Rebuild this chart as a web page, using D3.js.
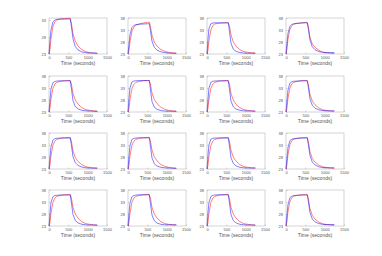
<!DOCTYPE html>
<html>
<head>
<meta charset="utf-8">
<script src="https://cdn.jsdelivr.net/npm/d3@7"></script>
<style>
  body { margin: 0; background: #fff; }
  text { font-family: "Liberation Sans", Arial, sans-serif; fill: #333; }
</style>
</head>
<body>
<script>
// sample times (seconds), shared by every panel
const times = [0, 25, 50, 100, 150, 200, 300, 400, 500, 550, 580, 620, 680, 750, 850, 950, 1050, 1150, 1250];

// blue series, one row per panel (row-major, 4x4)
const blueSeries = [
  [23.0, 27.0, 30.0, 32.4, 33.0, 33.2, 33.3, 33.3, 33.3, 33.3, 31.0, 27.5, 25.2, 24.2, 23.6, 23.4, 23.3, 23.3, 23.2],
  [23.0, 27.0, 31.0, 34.0, 34.9, 35.2, 35.4, 35.5, 35.6, 35.6, 32.8, 28.4, 25.8, 24.6, 23.9, 23.6, 23.4, 23.3, 23.3],
  [23.0, 29.0, 33.5, 35.6, 35.9, 36.0, 36.0, 36.0, 36.0, 36.0, 32.5, 27.5, 25.0, 24.1, 23.6, 23.4, 23.3, 23.3, 23.3],
  [23.0, 27.5, 31.5, 34.5, 35.3, 35.6, 35.8, 35.9, 36.0, 36.0, 33.2, 28.8, 26.0, 24.8, 24.0, 23.7, 23.6, 23.6, 23.6],
  [23.0, 28.0, 32.5, 35.2, 35.7, 35.9, 36.0, 36.0, 36.0, 36.0, 32.6, 27.8, 25.3, 24.3, 23.7, 23.5, 23.4, 23.3, 23.3],
  [23.0, 28.5, 33.0, 35.5, 35.9, 36.0, 36.1, 36.1, 36.1, 36.1, 32.4, 27.4, 25.0, 24.1, 23.6, 23.4, 23.3, 23.3, 23.3],
  [23.0, 28.0, 32.8, 35.4, 35.8, 35.9, 36.0, 36.0, 36.0, 36.0, 32.5, 27.6, 25.2, 24.2, 23.7, 23.5, 23.4, 23.4, 23.4],
  [23.0, 27.8, 32.0, 35.0, 35.6, 35.8, 35.9, 36.0, 36.0, 36.0, 33.0, 28.5, 25.8, 24.6, 23.9, 23.6, 23.5, 23.5, 23.5],
  [23.0, 27.8, 32.0, 35.0, 35.6, 35.8, 35.9, 35.9, 35.9, 35.9, 32.8, 28.2, 25.6, 24.5, 23.8, 23.5, 23.4, 23.4, 23.4],
  [23.0, 28.2, 32.6, 35.3, 35.8, 35.9, 36.0, 36.0, 36.0, 36.0, 32.5, 27.7, 25.2, 24.2, 23.7, 23.5, 23.4, 23.3, 23.3],
  [23.0, 28.5, 33.0, 35.4, 35.8, 35.9, 35.9, 35.9, 35.9, 35.9, 32.6, 27.8, 25.3, 24.3, 23.7, 23.5, 23.4, 23.4, 23.4],
  [23.0, 27.6, 31.8, 34.8, 35.4, 35.6, 35.8, 35.9, 35.9, 35.9, 33.0, 28.6, 25.9, 24.7, 23.9, 23.6, 23.5, 23.5, 23.5],
  [23.0, 28.0, 32.6, 35.2, 35.7, 35.8, 35.9, 35.9, 35.9, 35.9, 32.6, 27.8, 25.3, 24.3, 23.7, 23.5, 23.4, 23.4, 23.4],
  [23.0, 28.0, 32.5, 35.2, 35.7, 35.9, 36.0, 36.0, 36.0, 36.0, 32.5, 27.6, 25.2, 24.2, 23.7, 23.5, 23.5, 23.5, 23.5],
  [23.0, 28.3, 32.8, 35.3, 35.8, 35.9, 36.0, 36.0, 36.0, 36.0, 32.6, 27.8, 25.3, 24.3, 23.7, 23.5, 23.4, 23.4, 23.4],
  [23.0, 27.6, 31.8, 34.8, 35.4, 35.7, 35.8, 35.9, 35.9, 35.9, 33.0, 28.6, 25.9, 24.7, 24.0, 23.7, 23.6, 23.6, 23.6]
];

// red series, one row per panel
const redSeries = [
  [23.0, 24.2, 27.3, 31.0, 32.5, 33.0, 33.3, 33.4, 33.5, 33.5, 32.0, 29.0, 26.8, 25.3, 24.3, 23.7, 23.4, 23.3, 23.2],
  [23.0, 24.3, 28.0, 32.4, 34.2, 35.0, 35.6, 35.9, 36.2, 36.3, 34.6, 30.8, 28.0, 26.3, 24.9, 24.1, 23.7, 23.5, 23.3],
  [23.0, 24.5, 28.5, 33.0, 34.8, 35.5, 35.8, 35.9, 36.0, 36.0, 34.8, 31.0, 28.0, 26.3, 24.8, 24.0, 23.7, 23.5, 23.4],
  [23.0, 25.0, 29.0, 33.2, 34.8, 35.4, 35.8, 36.0, 36.1, 36.1, 34.2, 30.0, 27.2, 25.8, 24.5, 23.8, 23.5, 23.3, 23.2],
  [23.0, 24.4, 28.2, 32.8, 34.6, 35.3, 35.8, 36.0, 36.1, 36.1, 34.6, 30.8, 28.0, 26.3, 24.8, 24.0, 23.7, 23.5, 23.3],
  [23.0, 24.3, 28.0, 32.6, 34.5, 35.3, 35.8, 36.0, 36.1, 36.2, 34.7, 31.0, 28.2, 26.5, 25.0, 24.1, 23.7, 23.5, 23.3],
  [23.0, 24.4, 28.2, 32.8, 34.6, 35.3, 35.8, 36.0, 36.1, 36.1, 34.6, 30.8, 28.0, 26.2, 24.8, 24.0, 23.7, 23.5, 23.3],
  [23.0, 24.6, 28.5, 33.0, 34.7, 35.4, 35.8, 36.0, 36.1, 36.1, 34.4, 30.4, 27.6, 26.0, 24.7, 23.9, 23.6, 23.4, 23.3],
  [23.0, 24.5, 28.3, 32.8, 34.6, 35.3, 35.8, 36.0, 36.1, 36.1, 34.5, 30.6, 27.8, 26.1, 24.8, 24.0, 23.6, 23.4, 23.3],
  [23.0, 24.4, 28.2, 32.8, 34.6, 35.3, 35.8, 36.0, 36.1, 36.2, 34.7, 30.9, 28.1, 26.4, 24.9, 24.1, 23.7, 23.5, 23.3],
  [23.0, 24.4, 28.2, 32.8, 34.6, 35.3, 35.8, 36.0, 36.1, 36.1, 34.6, 30.8, 28.0, 26.3, 24.8, 24.0, 23.7, 23.5, 23.4],
  [23.0, 24.8, 28.8, 33.1, 34.8, 35.4, 35.8, 36.0, 36.1, 36.1, 34.3, 30.2, 27.4, 25.9, 24.6, 23.9, 23.6, 23.4, 23.3],
  [23.0, 24.4, 28.2, 32.8, 34.6, 35.3, 35.8, 36.0, 36.1, 36.1, 34.6, 30.8, 28.0, 26.3, 24.8, 24.0, 23.7, 23.5, 23.3],
  [23.0, 24.4, 28.2, 32.8, 34.6, 35.3, 35.8, 36.0, 36.1, 36.1, 34.6, 30.8, 28.0, 26.3, 24.8, 24.0, 23.7, 23.5, 23.4],
  [23.0, 24.4, 28.2, 32.8, 34.6, 35.3, 35.8, 36.0, 36.1, 36.1, 34.6, 30.8, 28.0, 26.3, 24.8, 24.0, 23.7, 23.5, 23.3],
  [23.0, 24.8, 28.8, 33.1, 34.8, 35.4, 35.8, 36.0, 36.1, 36.1, 34.3, 30.2, 27.4, 25.9, 24.6, 23.9, 23.6, 23.4, 23.3]
];

// y limits per panel; the first panel is tighter
const yMaxes = [33.6, 38, 38, 38, 38, 38, 38, 38, 38, 38, 38, 38, 38, 38, 38, 38];
const xTicks = [0, 500, 1000, 1500];
const yTicksTall = [23, 28, 33, 38];
const yTicksShort = [23, 28, 33];
const xLabel = 'Time (seconds)';

const W = 382, H = 256;
const colLeft = [49, 128, 207, 286];
const rowTop = [18, 76, 133, 190];
const pw = 58, ph = 36;

const svg = d3.select('body').append('svg')
  .attr('width', W)
  .attr('height', H);

const line = (x, y) => d3.line()
  .x(d => x(d[0]))
  .y(d => y(d[1]));

blueSeries.forEach((blue, i) => {
  const r = Math.floor(i / 4), c = i % 4;
  const g = svg.append('g')
    .attr('transform', `translate(${colLeft[c]}, ${rowTop[r]})`);

  const x = d3.scaleLinear().domain([0, 1500]).range([0, pw]);
  const y = d3.scaleLinear().domain([23, yMaxes[i]]).range([ph, 0]);

  // box
  g.append('rect')
    .attr('width', pw).attr('height', ph)
    .attr('fill', 'none')
    .attr('stroke', '#aaa')
    .attr('stroke-width', 0.5);

  const xAxis = g.append('g')
    .attr('transform', `translate(0, ${ph})`)
    .call(d3.axisBottom(x).tickValues(xTicks).tickFormat(d3.format('d')).tickSize(-1.5).tickPadding(2.5));
  const yAxis = g.append('g')
    .call(d3.axisLeft(y).tickValues(yMaxes[i] > 34 ? yTicksTall : yTicksShort).tickSize(-1.5).tickPadding(3));

  [xAxis, yAxis].forEach(a => {
    a.select('.domain').remove();
    a.selectAll('line').attr('stroke', '#aaa').attr('stroke-width', 0.5);
    a.selectAll('text')
      .style('font-size', '4px')
      .style('fill', '#555');
  });

  g.append('text')
    .attr('x', pw / 2)
    .attr('y', ph + 10.5)
    .attr('text-anchor', 'middle')
    .style('font-size', '5px')
    .style('fill', '#555')
    .text(xLabel);

  const fn = line(x, y);
  g.append('path')
    .datum(times.map((t, k) => [t, redSeries[i][k]]))
    .attr('d', fn)
    .attr('fill', 'none')
    .attr('stroke', '#ff0000')
    .attr('stroke-width', 0.5);
  g.append('path')
    .datum(times.map((t, k) => [t, blue[k]]))
    .attr('d', fn)
    .attr('fill', 'none')
    .attr('stroke', '#0000ff')
    .attr('stroke-width', 0.5);
});
</script>
</body>
</html>
